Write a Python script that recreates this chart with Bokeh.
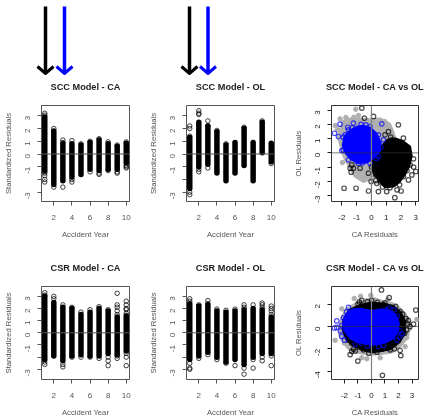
from math import pi
from bokeh.plotting import figure
from bokeh.layouts import column, row
from bokeh.models import Span, Title
from bokeh.embed import file_html
from bokeh.resources import INLINE

years = [1, 2, 3, 4, 5, 6, 7, 8, 9, 10]

scc_ca_low = [-1.3, -2.4, -2.1, -1.8, -1.6, -1.2, -1.3, -1.2, -1.2, -0.7]
scc_ca_high = [2.9, 1.8, 0.8, 0.8, 0.7, 0.9, 1.1, 0.8, 0.6, 0.85]
scc_ca_out = [[3.2, 3.05, -1.4, -1.5, -1.7, -2.0, -2.2], [2.0, -2.6], [1.1, 0.9, -2.6], [1.05, -2.0, -2.2], [0.8],
              [1.0, -1.4], [1.2, -1.5, -1.6], [0.95, -1.3], [0.7, -1.4, -1.5], [0.95, -0.9, -1.0, -1.1]]

scc_ol_low = [-2.7, -1.0, -0.8, -1.5, -2.1, -1.5, -0.9, -2.1, 0.1, -0.6]
scc_ol_high = [1.3, 2.5, 2.2, 1.75, 0.7, 0.9, 2.0, 0.9, 2.5, 0.85]
scc_ol_out = [[2.2, 2.0, 1.4, -3.0, -3.2], [3.4, 3.2, 3.1, -1.2, -1.4], [2.6, 2.2, -1.1], [1.85], [0.8],
              [], [2.1], [], [2.6], [-0.75]]

csr_ca_low = [-2.2, -1.9, -2.3, -1.9, -1.8, -1.9, -1.9, -1.7, -1.8, -1.5]
csr_ca_high = [3.0, 2.5, 2.1, 2.0, 1.5, 1.7, 2.0, 1.8, 1.3, 1.4]
csr_ca_out = [[3.3, 3.1, -2.4, -2.6], [3.0, 2.8], [2.3, -2.6, -2.8], [2.1, -2.0], [1.7, -2.0], [1.9, -2.0],
              [2.15, -2.1], [1.9, -2.0, -2.3, -2.7], [3.25, 2.3, 2.1, 1.8, 1.5, -1.9, -2.1],
              [2.6, 2.3, 2.0, 1.9, 1.6, -1.7, -2.0, -2.7]]

csr_ol_low = [-2.2, -1.9, -1.6, -2.0, -2.4, -2.2, -2.6, -2.0, -1.7, -1.7]
csr_ol_high = [2.4, 2.2, 2.3, 1.8, 1.7, 1.8, 1.9, 2.0, 1.9, 1.3]
csr_ol_out = [[2.8, 2.6, -2.5, -2.9, -3.0], [2.3, -2.1], [2.65, 2.4, -1.8], [1.95, -2.2], [1.85, -2.5], [1.95, -2.7],
              [2.3, 2.1, -2.9, -3.4], [2.3, -2.2, -2.9], [2.45, 2.3, 2.1, -2.0, -2.3], [2.2, 2.0, 1.8, 1.5, -1.9, -2.7]]

# SCC CA vs OL: dense regions (outlines) and stray points
scc_grey_x = [-1.89, -1.3, -0.88, 0.0, 0.6, 1.2, 1.4, 1.55, 1.3, 1.04, 0.4, 0.25, 0.02, -0.54, -1.1, -1.44, -1.75, -1.95, -2.2]
scc_grey_y = [2.2, 2.35, 2.35, 2.3, 2.35, 2.0, 1.5, 1.0, 0.3, -0.14, -0.8, -1.4, -1.75, -1.97, -1.6, -0.95, -0.4, 0.2, 1.15]
scc_black_x = [0.85, 1.1, 1.6, 2.1, 2.55, 2.65, 2.5, 2.2, 1.85, 1.5, 0.95, 0.55, 0.2, 0.05, 0.35]
scc_black_y = [0.55, 0.85, 0.95, 0.75, 0.4, -0.2, -0.9, -1.5, -2.0, -2.3, -2.35, -1.9, -1.4, -0.85, -0.15]
scc_blue_x = [-1.55, -1.1, -0.55, -0.1, 0.3, 0.55, 0.5, 0.15, -0.3, -0.85, -1.35, -1.7, -1.85, -1.8]
scc_blue_y = [1.4, 1.7, 1.85, 1.7, 1.3, 0.7, 0.15, -0.25, -0.6, -0.65, -0.4, 0.05, 0.5, 1.0]
scc_pt_black_x = [-0.65, 0.14, -0.47, 1.82, 1.15, 0.92, -1.85, -1.04, -0.2, 0.47, 1.58, 1.03, 2.0, 0.36, -1.33, -1.22,
                  -1.44, -1.37, -0.77, -0.2, -0.02, 3.0, 2.73, 2.5, 2.16, 2.84, 2.61, 2.16, 1.37, 1.73, 0.3, 0.75, 1.25,
                  0.0, 0.3, 0.6, 2.85, 2.4, 1.9, 1.3, 0.1]
scc_pt_black_y = [3.15, 2.56, 2.44, 1.97, 1.5, 1.27, -2.49, -2.49, -2.68, -2.72, -3.15, -2.72, -2.68, -2.14, -0.85,
                  -1.08, -1.08, -1.36, -1.08, -1.43, -2.02, -1.31, -1.55, -1.9, -1.67, -0.42, -0.85, 1.03, 0.92, -2.6,
                  -1.95, -2.4, -2.45, -1.0, -1.55, -2.05, -1.0, -1.25, -2.25, 1.1, 0.1]
scc_pt_grey_x = [-1.06, -0.88, -2.12, -1.73, -2.45, -2.3, -1.96, -2.0, -1.5, -1.2, 0.9, 1.3]
scc_pt_grey_y = [3.07, 2.63, 2.39, 2.49, 1.92, 1.62, -0.68, 1.62, 2.3, 2.5, 2.2, 1.5]
scc_pt_blue_x = [-2.5, -2.12, -1.22, -0.38, 0.7, -2.23, -1.78, -1.82, -2.0, -1.55, -0.88, -0.09, 0.47, 0.81, 0.47,
                 -0.09, -0.88, -1.55, -1.9, -1.0, -0.6, -1.6, -1.9, 0.65, 0.35, -1.3, -0.7]
scc_pt_blue_y = [1.38, 2.02, 2.09, 1.97, 2.04, 1.15, 1.27, 0.56, 0.16, -0.49, -0.73, -0.73, -0.26, 0.92, 1.27,
                 1.85, 1.74, 1.62, 0.2, -0.55, -0.7, 1.8, 1.1, 0.4, -0.4, 1.75, 2.0]

# CSR CA vs OL
csr_grey_x = [-1.83, -1.1, -0.47, 0.3, 0.77, 1.5, 2.0, 2.45, 2.74, 2.75, 2.62, 2.1, 1.51, 0.8, 0.02, -0.6, -1.09, -1.6, -1.95, -2.3, -2.32, -2.15]
csr_grey_y = [1.49, 2.0, 2.34, 2.4, 2.2, 2.0, 1.63, 1.1, 0.49, -0.2, -0.94, -1.7, -2.23, -2.35, -2.43, -2.35, -2.23, -2.0, -1.51, -0.8, -0.09, 0.8]
csr_black_x = [-1.6, -0.8, 0.02, 0.9, 1.6, 2.1, 2.4, 2.4, 2.0, 1.38, 0.7, 0.02, -0.7, -1.3, -1.8, -2.05, -2.0]
csr_black_y = [1.4, 1.85, 2.06, 1.95, 1.75, 1.2, 0.49, -0.6, -1.35, -1.94, -2.1, -2.23, -2.0, -1.66, -1.1, -0.3, 0.6]
csr_blue_x = [-1.7, -1.3, -0.8, 0.0, 0.75, 1.3, 1.7, 1.95, 1.9, 1.55, 1.0, 0.4, -0.3, -1.0, -1.5, -1.85, -2.05, -1.95]
csr_blue_y = [1.2, 1.45, 1.5, 1.3, 1.45, 1.3, 1.0, 0.3, -0.4, -1.0, -1.35, -1.5, -1.45, -1.3, -1.0, -0.5, 0.05, 0.7]
csr_pt_black_x = [0.74, 1.31, 3.28, -1.01, 0.81, -1.58, -1.46, -1.33, 2.12, 2.17, 3.11, 2.74, -0.72, 0.02, 0.89, 1.51,
                  2.12, 2.69, -0.59, 0.15, 0.77, 1.38, -1.7, -1.46, 2.0, -0.3, 0.45, 2.45, -1.0,
                  -0.9, 1.0, 1.8, 2.3, 2.55, 2.6, 1.7, 0.4, -0.2, -1.2, 2.85]
csr_pt_black_y = [3.26, 2.57, 1.46, -3.09, -4.37, -2.51, -2.23, -2.03, -2.14, -2.6, 0.2, 0.54, 2.34, 2.34, 1.97, 1.69,
                  1.34, 0.2, -2.09, -2.03, -2.03, -2.09, -1.23, -1.51, -1.23, 2.2, 2.15, -0.6, 2.0,
                  2.2, 2.1, 1.8, 1.1, 0.7, -0.3, -2.0, -2.3, -2.4, -2.2, 0.0]
csr_pt_grey_x = [-1.28, -0.05, -2.2, -2.69, -0.35, 0.64, 2.49, 3.36, -0.72, -2.0, 2.8, 2.6, -0.8, 1.2]
csr_pt_grey_y = [2.49, 2.77, 1.57, -1.23, -2.89, -2.8, -1.8, 0.63, -2.8, -1.5, -0.2, -1.0, 2.7, 2.4]
csr_pt_blue_x = [-2.74, -2.57, -2.57, -2.07, -1.7, -2.2, -2.0, 2.25, 2.1, 1.68, 1.14, 1.88, 0.52, -0.72, -1.2, 0.0,
                 -1.85, -2.2, -2.3, 1.3, 1.9, 2.1, 0.9, -0.3]
csr_pt_blue_y = [-0.14, -0.09, 0.49, 0.77, 1.71, -0.89, -1.23, -0.66, -0.4, 1.49, 1.49, -1.23, -1.8, -1.51, -1.6, -1.6,
                 1.3, 0.1, -0.4, 1.65, 0.9, -0.9, -1.7, -1.75]

x_ticks_year = [2, 4, 6, 8, 10]
y_ticks = [-3, -2, -1, 0, 1, 2, 3]
y_ticks_csr = [-4, -2, 0, 2]
x_ticks_res = [-2, -1, 0, 1, 2, 3]

arrow_x = [45, 64, 189, 207.5]
arrow_colors = ["#000000", "#0000ff", "#000000", "#0000ff"]

FONT = "Liberation Sans"
GREY = "#555555"


def hyphen(ticks):
    return {t: str(t) for t in ticks}


def base(title, xr, yr, width, height, left, right, top, bottom, xlabel, ylabel, xticks, yticks, dark=False):
    p = figure(width=width, height=height, x_range=xr, y_range=yr, output_backend="svg", toolbar_location=None,
               min_border_left=left, min_border_right=right, min_border_top=top, min_border_bottom=bottom,
               background_fill_color="white", border_fill_color=None)
    p.grid.visible = False
    # an empty title lifts the real one away from the frame
    p.add_layout(Title(text=" ", text_font=FONT, text_font_size="5px", standoff=0), "above")
    p.add_layout(Title(text=title, text_font=FONT, text_font_size="9.2px", text_font_style="bold",
                       text_color="#222222", align="center", vertical_align="top", standoff=8), "above")
    p.outline_line_color = "#333333" if dark else GREY
    p.outline_line_width = 1
    tick_col = "#222222" if dark else GREY
    for ax, ticks, lab in ((p.xaxis[0], xticks, xlabel), (p.yaxis[0], yticks, ylabel)):
        ax.ticker = ticks
        ax.major_label_overrides = hyphen(ticks)
        ax.axis_label = lab
        ax.axis_label_text_font = FONT
        ax.axis_label_text_font_style = "normal"
        ax.axis_label_text_font_size = "7.7px"
        ax.axis_label_text_color = GREY
        ax.major_label_text_font = FONT
        ax.major_label_text_font_size = "8px"
        ax.major_label_text_color = tick_col
        ax.major_tick_line_color = tick_col
        ax.major_tick_out = 4
        ax.major_tick_in = 0
        ax.minor_tick_line_color = None
        ax.axis_line_color = None
    p.xaxis[0].major_label_standoff = 9
    p.xaxis[0].axis_label_standoff = 7
    p.yaxis[0].major_label_orientation = pi / 2
    p.yaxis[0].major_label_standoff = 10
    p.yaxis[0].axis_label_standoff = 7
    return p


def strip(title, low, high, out, yr, width, height, left, right, top, bottom):
    p = base(title, (0.64, 10.36), yr, width, height, left, right, top, bottom, "Accident Year",
             "Standardized Residuals", x_ticks_year, y_ticks)
    p.yaxis[0].major_label_overrides = {**hyphen(y_ticks), -2: ""}
    p.add_layout(Span(location=0, dimension="width", line_color="#555555", line_width=1))
    p.segment(years, low, years, high, line_color="black", line_width=5.5, line_cap="round")
    ox = [y for y, vals in zip(years, out) for _ in vals]
    oy = [v for vals in out for v in vals]
    p.scatter(ox, oy, size=4.5, marker="circle", fill_color=None, line_color="black", line_alpha=0.75, line_width=1)
    return p


def cloud(title, xr, yr, width, height, left, right, top, bottom, xticks, yticks, g, k, b, pg, pk, pb):
    p = base(title, xr, yr, width, height, left, right, top, bottom, "CA Residuals", "OL Residuals", xticks, yticks,
             dark=True)
    p.patch(g[0], g[1], fill_color="#b0b0b0", line_color="#b0b0b0", line_width=4, line_join="round")
    p.scatter(pg[0], pg[1], size=4.5, marker="circle", fill_color="#b0b0b0", line_color="#b0b0b0")
    p.add_layout(Span(location=0, dimension="height", line_color="#808080", line_width=1.2))
    p.patch(k[0], k[1], fill_color="black", line_color="black", line_width=4, line_join="round")
    p.scatter(pk[0], pk[1], size=4.5, marker="circle", fill_color=None, line_color="black", line_alpha=0.7, line_width=1.2)
    p.patch(b[0], b[1], fill_color="#0000ff", line_color="#0000ff", line_width=4, line_join="round")
    p.scatter(pb[0], pb[1], size=4.5, marker="circle", fill_color=None, line_color="#0000ff", line_alpha=0.7, line_width=1.2)
    p.add_layout(Span(location=0, dimension="width", line_color="#333333", line_width=0.8, line_alpha=0.8))
    return p


top_strip = figure(width=424, height=75, x_range=(0, 424), y_range=(75, 0), output_backend="svg",
                   toolbar_location=None, min_border=0, background_fill_color=None, border_fill_color=None)
top_strip.axis.visible = False
top_strip.grid.visible = False
top_strip.outline_line_color = None
for ax, col in zip(arrow_x, arrow_colors):
    top_strip.line([ax, ax], [6, 72], line_color=col, line_width=3.5)
    top_strip.line([ax - 8, ax, ax + 8], [66, 73, 66], line_color=col, line_width=3, line_join="miter")

R1 = dict(height=170, top=30, bottom=44)
R2 = dict(height=174, top=41, bottom=36)
C12 = dict(width=145, left=41, right=16)
C3 = dict(width=134, left=41, right=6)

f1 = strip("SCC Model - CA", scc_ca_low, scc_ca_high, scc_ca_out, (-3.73, 3.81), **C12, **R1)
f2 = strip("SCC Model - OL", scc_ol_low, scc_ol_high, scc_ol_out, (-3.73, 3.81), **C12, **R1)
f3 = cloud("SCC Model - CA vs OL", (-2.7, 3.18), (-3.42, 3.33), **C3, **R1, xticks=x_ticks_res, yticks=y_ticks,
           g=(scc_grey_x, scc_grey_y), k=(scc_black_x, scc_black_y), b=(scc_blue_x, scc_blue_y),
           pg=(scc_pt_grey_x, scc_pt_grey_y), pk=(scc_pt_black_x, scc_pt_black_y), pb=(scc_pt_blue_x, scc_pt_blue_y))
f4 = strip("CSR Model - CA", csr_ca_low, csr_ca_high, csr_ca_out, (-3.84, 3.81), **C12, **R2)
f5 = strip("CSR Model - OL", csr_ol_low, csr_ol_high, csr_ol_out, (-3.84, 3.81), **C12, **R2)
f6 = cloud("CSR Model - CA vs OL", (-2.96, 3.48), (-4.74, 3.57), **C3, **R2, xticks=x_ticks_res, yticks=y_ticks_csr,
           g=(csr_grey_x, csr_grey_y), k=(csr_black_x, csr_black_y), b=(csr_blue_x, csr_blue_y),
           pg=(csr_pt_grey_x, csr_pt_grey_y), pk=(csr_pt_black_x, csr_pt_black_y), pb=(csr_pt_blue_x, csr_pt_blue_y))

page = column(top_strip, row(f1, f2, f3, spacing=0), row(f4, f5, f6, spacing=0), spacing=0,
              styles={"filter": "blur(0.45px)"})

open("out.html", "w").write(file_html(page, INLINE))
